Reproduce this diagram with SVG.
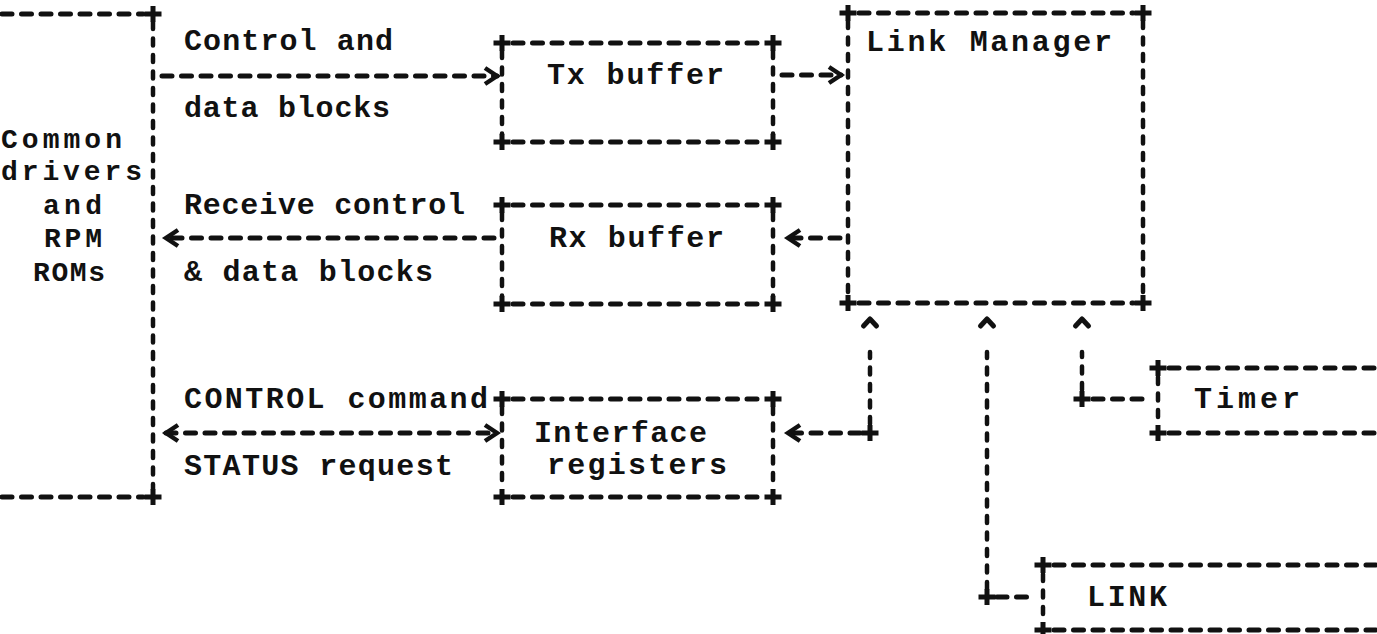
<svg xmlns="http://www.w3.org/2000/svg" width="1377" height="634" viewBox="0 0 1377 634">
  <defs>
    <style>
      .h{fill:none;stroke:#111;stroke-width:5;stroke-dasharray:10 9.5;stroke-linecap:round}
      .v{fill:none;stroke:#111;stroke-width:4.5;stroke-dasharray:7 9.5;stroke-linecap:round}
      .t{font-family:"Liberation Mono","DejaVu Sans Mono",monospace;font-weight:bold;font-size:30px;fill:#111}
      .s{font-size:28px}
    </style>
    <!-- typewriter-style corner / junction mark -->
    <path id="plus" d="M-8.5,0H8.5M0,-8V8" stroke="#111" stroke-width="5" fill="none"/>
    <!-- open chevron arrowhead, tip on the path end -->
    <marker id="chev" markerUnits="userSpaceOnUse" markerWidth="20" markerHeight="20" viewBox="-16 -10 20 20" refX="0" refY="0" orient="auto-start-reverse" overflow="visible">
      <path d="M-12,-8L0,0L-12,8" fill="none" stroke="#111" stroke-width="4.5" stroke-linejoin="miter"/>
    </marker>
    <!-- small caret set a little beyond the end of a vertical feed -->
    <marker id="caret" markerUnits="userSpaceOnUse" markerWidth="40" markerHeight="20" viewBox="0 -10 40 20" refX="0" refY="0" orient="auto" overflow="visible">
      <path d="M26,-6.5L33,0L26,6.5" fill="none" stroke="#111" stroke-width="5" stroke-linejoin="round" stroke-linecap="round"/>
    </marker>
  </defs>

  <rect width="1377" height="634" fill="#fff"/>

  <!-- host side: common drivers and RPM ROMs -->
  <g id="drivers">
    <path class="h" d="M2,14H143"/>
    <path class="v" d="M153,22V489"/>
    <path class="h" d="M2,497H143"/>
    <use href="#plus" x="153" y="14"/>
    <use href="#plus" x="153" y="497"/>
    <text class="t s" x="1" y="148" textLength="121" lengthAdjust="spacing">Common</text>
    <text class="t s" x="1" y="180" textLength="141" lengthAdjust="spacing">drivers</text>
    <text class="t s" x="43" y="214" textLength="59" lengthAdjust="spacing">and</text>
    <text class="t s" x="44" y="247" textLength="58" lengthAdjust="spacing">RPM</text>
    <text class="t s" x="33" y="281" textLength="72" lengthAdjust="spacing">ROMs</text>
  </g>

  <!-- transmit buffer -->
  <g id="tx-buffer">
    <path class="h" d="M513,43H763"/>
    <path class="h" d="M513,142H763"/>
    <path class="v" d="M502,51V134"/>
    <path class="v" d="M773,51V134"/>
    <use href="#plus" x="502" y="43"/>
    <use href="#plus" x="773" y="43"/>
    <use href="#plus" x="502" y="142"/>
    <use href="#plus" x="773" y="142"/>
    <text class="t" x="547" y="84" textLength="177" lengthAdjust="spacing">Tx buffer</text>
  </g>

  <!-- receive buffer -->
  <g id="rx-buffer">
    <path class="h" d="M513,205H763"/>
    <path class="h" d="M513,304H763"/>
    <path class="v" d="M502,213V296"/>
    <path class="v" d="M773,213V296"/>
    <use href="#plus" x="502" y="205"/>
    <use href="#plus" x="773" y="205"/>
    <use href="#plus" x="502" y="304"/>
    <use href="#plus" x="773" y="304"/>
    <text class="t" x="549" y="247" textLength="175" lengthAdjust="spacing">Rx buffer</text>
  </g>

  <!-- interface registers -->
  <g id="interface-registers">
    <path class="h" d="M513,399H763"/>
    <path class="h" d="M513,497H763"/>
    <path class="v" d="M502,407V489"/>
    <path class="v" d="M773,407V489"/>
    <use href="#plus" x="502" y="399"/>
    <use href="#plus" x="773" y="399"/>
    <use href="#plus" x="502" y="497"/>
    <use href="#plus" x="773" y="497"/>
    <text class="t" x="534" y="442" textLength="173" lengthAdjust="spacing">Interface</text>
    <text class="t" x="547" y="474" textLength="180" lengthAdjust="spacing">registers</text>
  </g>

  <!-- link manager -->
  <g id="link-manager">
    <path class="h" d="M859,13H1133"/>
    <path class="h" d="M859,303H1133"/>
    <path class="v" d="M848,21V295"/>
    <path class="v" d="M1143,21V295"/>
    <use href="#plus" x="848" y="13"/>
    <use href="#plus" x="1143" y="13"/>
    <use href="#plus" x="848" y="303"/>
    <use href="#plus" x="1143" y="303"/>
    <text class="t" x="866" y="51" textLength="246" lengthAdjust="spacing">Link Manager</text>
  </g>

  <!-- timer (runs off the right edge) -->
  <g id="timer">
    <path class="h" d="M1169,368H1377"/>
    <path class="h" d="M1169,433H1377"/>
    <path class="v" d="M1158,377V424"/>
    <use href="#plus" x="1158" y="368"/>
    <use href="#plus" x="1158" y="433"/>
    <text class="t" x="1194" y="408" textLength="106" lengthAdjust="spacing">Timer</text>
  </g>

  <!-- link (runs off the right edge) -->
  <g id="link">
    <path class="h" d="M1054,565H1377"/>
    <path class="h" d="M1054,630H1377"/>
    <path class="v" d="M1043,574V621"/>
    <use href="#plus" x="1043" y="565"/>
    <use href="#plus" x="1043" y="630"/>
    <text class="t" x="1087" y="606" textLength="80" lengthAdjust="spacing">LINK</text>
  </g>

  <!-- data paths between the blocks -->
  <g id="connectors">
    <g id="drivers-to-tx">
      <path class="h" d="M162,76H497" marker-end="url(#chev)"/>
      <text class="t" x="184" y="50" textLength="209" lengthAdjust="spacing">Control and</text>
      <text class="t" x="184" y="117" textLength="206" lengthAdjust="spacing">data blocks</text>
    </g>
    <g id="tx-to-lm">
      <path class="h" d="M782,75H841" marker-end="url(#chev)"/>
    </g>
    <g id="lm-to-rx">
      <path class="h" d="M840,238H788" marker-end="url(#chev)"/>
    </g>
    <g id="rx-to-drivers">
      <path class="h" d="M494,238H166" marker-end="url(#chev)"/>
      <text class="t" x="184" y="214" textLength="281" lengthAdjust="spacing">Receive control</text>
      <text class="t" x="184" y="281" textLength="249" lengthAdjust="spacing">&amp; data blocks</text>
    </g>
    <g id="drivers-iface">
      <path class="h" d="M166,433H497" marker-start="url(#chev)" marker-end="url(#chev)"/>
      <text class="t" x="184" y="408" textLength="304" lengthAdjust="spacing">CONTROL command</text>
      <text class="t" x="184" y="475" textLength="269" lengthAdjust="spacing">STATUS request</text>
    </g>
    <g id="lm-iface">
      <path class="h" d="M860,433H788" marker-end="url(#chev)"/>
      <path class="v" d="M870,424V352" marker-end="url(#caret)"/>
      <use href="#plus" x="870" y="433"/>
    </g>
    <g id="link-lm">
      <path class="v" d="M987,589V352" marker-end="url(#caret)"/>
      <path class="h" d="M997,597H1033"/>
      <use href="#plus" x="987" y="597"/>
    </g>
    <g id="timer-lm">
      <path class="v" d="M1082,390V352" marker-end="url(#caret)"/>
      <path class="h" d="M1093,399H1148"/>
      <use href="#plus" x="1082" y="399"/>
    </g>
  </g>
</svg>
